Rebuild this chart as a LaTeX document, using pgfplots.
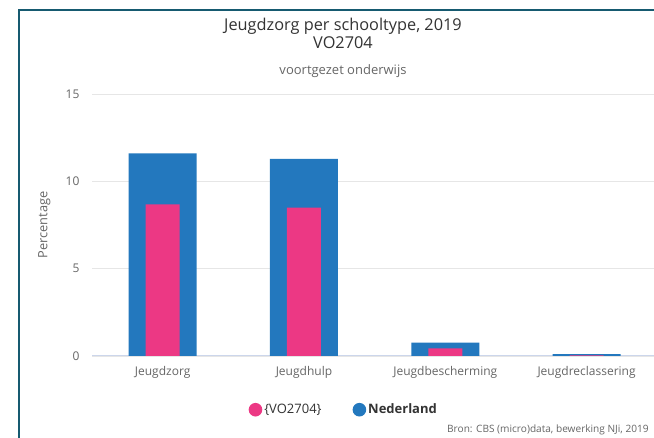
\documentclass[border=0pt]{standalone}
\usepackage{pgfplots}
\pgfplotsset{compat=1.18}
\usepackage{fontspec}
\setmainfont{Open Sans}
\definecolor{nlblue}{RGB}{35,120,190}
\definecolor{vopink}{RGB}{236,56,132}
\definecolor{frame}{RGB}{22,90,112}
\definecolor{gridc}{RGB}{230,230,230}
\definecolor{zeroc}{RGB}{204,214,235}
\definecolor{txt}{RGB}{102,102,102}
\definecolor{ttl}{RGB}{51,51,51}
\begin{document}
\begin{tikzpicture}[x=1pt,y=1pt]
\useasboundingbox (0,0) rectangle (654,438);
\fill[white] (0,0) rectangle (654,438);
\draw[frame,line width=2.2pt] (19,0) -- (19,428) -- (660,428);
\node[ttl,font=\fontsize{16.3}{18}\selectfont] at (343,412) {Jeugdzorg per schooltype, 2019};
\node[ttl,font=\fontsize{16.3}{18}\selectfont] at (343,395.5) {VO2704};
\node[txt,font=\fontsize{13}{14}\selectfont] at (343,367) {voortgezet onderwijs};
\node[txt,font=\fontsize{10.1}{12}\selectfont,anchor=west,inner sep=1pt] at (446,8) {Bron: CBS (micro)data, bewerking NJi, 2019};
\begin{axis}[
  scale only axis,
  width=562pt, height=262pt,
  at={(92pt,82pt)}, anchor=south west,
  xmin=-0.5, xmax=3.477,
  ymin=0, ymax=15,
  ytick={0,5,10,15},
  xtick={0,1,2,3},
  xticklabels={Jeugdzorg,Jeugdhulp,Jeugdbescherming,Jeugdreclassering},
  ymajorgrids, grid style={gridc, line width=0.9pt},
  axis x line*=bottom, axis y line*=left,
  x axis line style={zeroc, line width=1pt},
  y axis line style={draw=none},
  major tick length=0pt,
  tick label style={txt, font=\fontsize{12}{13}\selectfont},
  /pgf/number format/assume math mode=true,
  yticklabel style={xshift=-9pt},
  xticklabel style={yshift=-7pt},
  ylabel={Percentage},
  ylabel style={txt, font=\fontsize{12.8}{14}\selectfont, at={(axis description cs:-0.085,0.5)}, anchor=center},
  ybar, bar shift=0pt,
  clip=false,
  reverse legend,
  legend columns=2,
  legend style={draw=none, fill=none, at={(axis description cs:0.448,-0.205)}, anchor=center,
    font=\fontsize{13}{15}\selectfont, text=ttl,
    /tikz/every even column/.append style={column sep=29pt}},
]
\addplot[fill=nlblue, draw=none, bar width=68pt,
  legend image code/.code={\fill[nlblue] (-2pt,0pt) circle (6.8pt);}]
  coordinates {(0,11.6) (1,11.28) (2,0.77) (3,0.1)};
\addlegendentry{\textbf{Nederland}}
\addplot[fill=vopink, draw=none, bar width=34pt,
  legend image code/.code={\fill[vopink] (-2pt,0pt) circle (6.8pt);}]
  coordinates {(0,8.68) (1,8.49) (2,0.44) (3,0.03)};
\addlegendentry{\{VO2704\}}
\end{axis}
\end{tikzpicture}
\end{document}
